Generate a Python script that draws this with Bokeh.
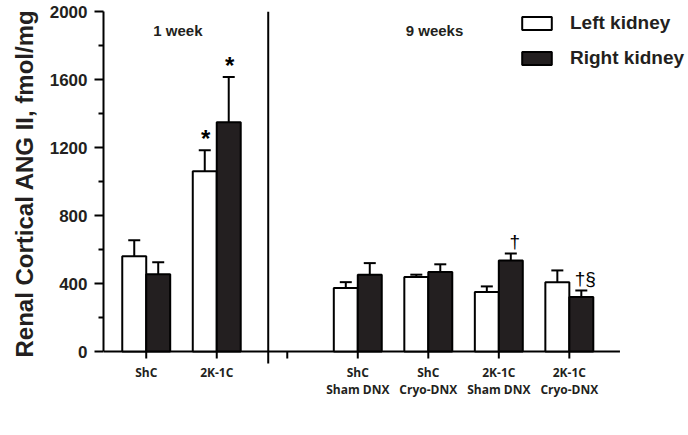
from math import pi
from bokeh.plotting import figure
from bokeh.models import (ColumnDataSource, Range1d, FixedTicker, Label, Title,
                          Whisker, TeeHead, Legend, LegendItem)
from bokeh.core.properties import value
from bokeh.embed import file_html
from bokeh.resources import INLINE

# ---- data ----
slot_line1 = ["ShC", "2K-1C", "", "ShC", "ShC", "2K-1C", "2K-1C"]
slot_line2 = ["", "", "", "Sham DNX", "Cryo-DNX", "Sham DNX", "Cryo-DNX"]
left_mean = [560, 1061, None, 373, 438, 350, 408]
left_err = [94, 123, None, 35, 14, 33, 69]
right_mean = [454, 1349, None, 452, 467, 536, 320]
right_err = [71, 265, None, 68, 46, 40, 39]
y_ticks = [0, 400, 800, 1200, 1600, 2000]
y_minor = [200, 600, 1000, 1400, 1800]
y_title = "Renal Cortical ANG II, fmol/mg"
period_labels = ["1 week", "9 weeks"]
mark_slot = [1, 1, 5, 6]
mark_side = ["L", "R", "R", "R"]
mark_text = ["*", "*", "\u2020", "\u2020\u00a7"]
series_names = ["Left kidney", "Right kidney"]

# ---- layout constants ----
OFF = 0.17
BAR_W = 0.34
SEP_X = 1.73
X0, X_AXIS_END, X1 = -0.606, 6.718, 7.69
Y0, Y1 = -494, 2000
DARK = "#231f20"
ARIAL = "Liberation Sans"

idx = [i for i, v in enumerate(left_mean) if v is not None]
src_l = ColumnDataSource(dict(
    x=[i - OFF for i in idx],
    m=[left_mean[i] for i in idx],
    top=[left_mean[i] + left_err[i] for i in idx]))
src_r = ColumnDataSource(dict(
    x=[i + OFF for i in idx],
    m=[right_mean[i] for i in idx],
    top=[right_mean[i] + right_err[i] for i in idx]))

p = figure(width=688, height=435,
           x_range=Range1d(X0, X1), y_range=Range1d(Y0, Y1),
           output_backend="svg", toolbar_location=None,
           min_border_left=99, min_border_right=0,
           min_border_top=11, min_border_bottom=0)
p.outline_line_color = None
p.xgrid.visible = False
p.ygrid.visible = False
p.xaxis.visible = False
p.background_fill_color = "white"
p.border_fill_color = "white"

# x axis line, ticks and separator
slots = list(range(len(slot_line1)))
p.segment(x0=[X0], y0=[0], x1=[X_AXIS_END], y1=[0], line_color="black", line_width=2)
p.ray(x=slots, y=[0] * len(slots), length=7, length_units="screen", angle=-pi / 2,
      line_color="black", line_width=2)
p.segment(x0=[SEP_X], y0=[Y1], x1=[SEP_X], y1=[-70], line_color="black", line_width=2)

# error bars
for src in (src_l, src_r):
    p.add_layout(Whisker(base="x", lower="m", upper="top", source=src,
                         dimension="height", line_width=2, line_color="black",
                         lower_head=None,
                         upper_head=TeeHead(size=12, line_width=2, line_color="black")))

rl = p.vbar(x="x", top="m", width=BAR_W, source=src_l, fill_color="white",
            line_color="black", line_width=2)
rr = p.vbar(x="x", top="m", width=BAR_W, source=src_r, fill_color=DARK,
            line_color="black", line_width=2)

# y axis
p.yaxis.bounds = (0, 2000)
p.yaxis.ticker = FixedTicker(ticks=y_ticks, minor_ticks=y_minor)
p.yaxis.major_label_text_font = ARIAL
p.yaxis.major_label_text_font_style = "bold"
p.yaxis.major_label_text_font_size = "17px"
p.yaxis.major_label_text_color = DARK
p.yaxis.major_label_standoff = 7
p.yaxis.axis_line_width = 2
p.yaxis.major_tick_line_width = 2
p.yaxis.minor_tick_line_width = 2
p.yaxis.major_tick_out = 9
p.yaxis.major_tick_in = 0
p.yaxis.minor_tick_out = 5
p.yaxis.minor_tick_in = 0

p.add_layout(Title(text=y_title, align="left", offset=78, standoff=17,
                   text_font=ARIAL, text_font_style="bold", text_font_size="24px",
                   text_color=DARK), "left")

# category labels (two centred lines under each tick)
cat1 = ColumnDataSource(dict(x=[i for i in slots if slot_line1[i]],
                             y=[0 for i in slots if slot_line1[i]],
                             t=[slot_line1[i] for i in slots if slot_line1[i]]))
cat2 = ColumnDataSource(dict(x=[i for i in slots if slot_line2[i]],
                             y=[0 for i in slots if slot_line2[i]],
                             t=[slot_line2[i] for i in slots if slot_line2[i]]))
for src, dy in ((cat1, 12), (cat2, 29)):
    p.text(x="x", y="y", text="t", source=src, x_offset=0, y_offset=dy,
           text_align="center", text_baseline="top", text_font=value("Open Sans"),
           text_font_style="bold", text_font_size="12px", text_color=DARK)

# period labels
for txt, xx in zip(period_labels, [0.10, 3.68]):
    p.add_layout(Label(x=xx, y=1891, text=txt, text_align="left",
                       text_baseline="alphabetic", text_font=ARIAL,
                       text_font_style="bold", text_font_size="15px",
                       text_color=DARK))

# significance marks
for s, side, t in zip(mark_slot, mark_side, mark_text):
    if side == "L":
        xx, top = s - OFF, left_mean[s] + left_err[s]
    else:
        xx, top = s + OFF, right_mean[s] + right_err[s]
    star = t == "*"
    p.add_layout(Label(x=xx, y=top, text=t, text_align="center",
                       text_baseline="alphabetic",
                       x_offset=1 if star else 4, y_offset=12,
                       text_font=ARIAL, text_font_style="bold" if star else "normal",
                       text_font_size="24px" if star else "19px",
                       text_color="black"))

legend = Legend(items=[LegendItem(label=series_names[0], renderers=[rl]),
                       LegendItem(label=series_names[1], renderers=[rr])],
                location=(415, 366), orientation="vertical",
                glyph_width=37, glyph_height=16, label_height=20, spacing=13,
                label_standoff=15, padding=0, margin=0,
                border_line_color=None, background_fill_alpha=0,
                label_text_font=ARIAL, label_text_font_style="bold",
                label_text_font_size="19px", label_text_color=DARK)
p.add_layout(legend)

open("out.html", "w").write(file_html(p, INLINE))
